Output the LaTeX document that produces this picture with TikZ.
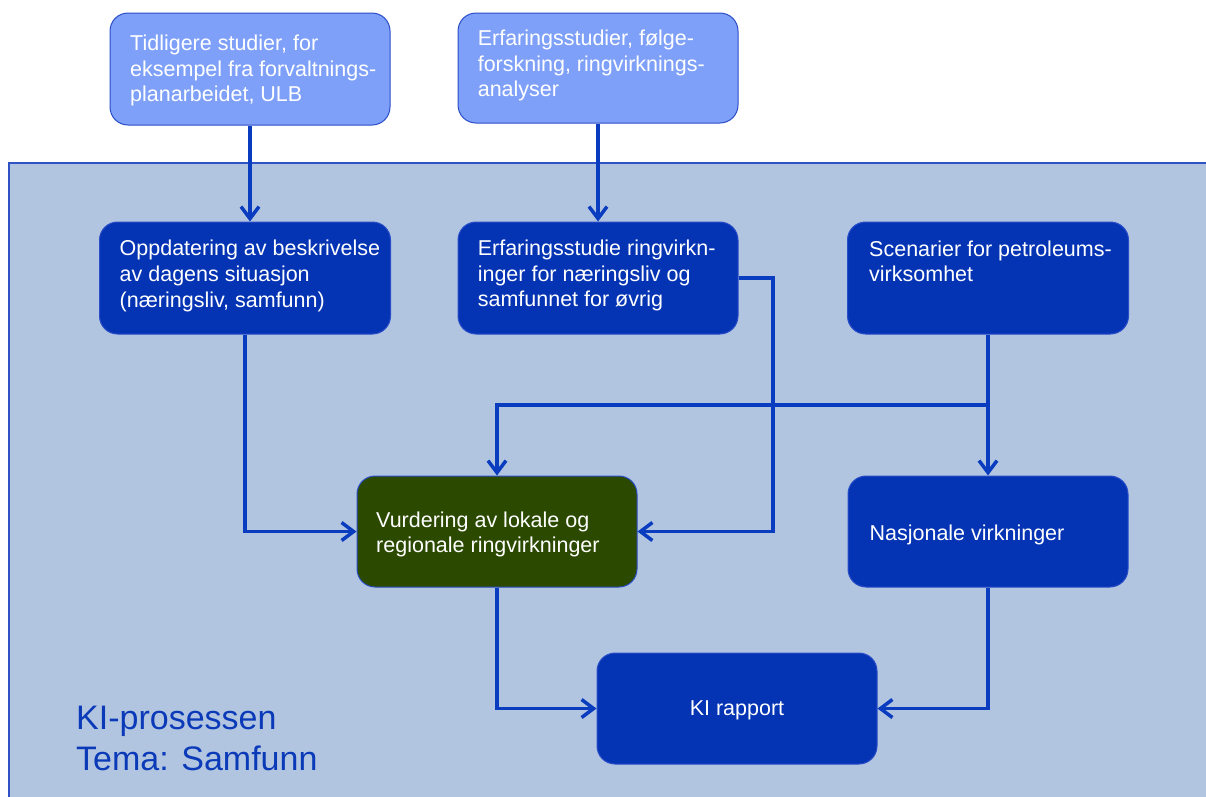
\documentclass[tikz,border=0pt]{standalone}
\usepackage{fontspec}
\setmainfont{Liberation Sans}
\usetikzlibrary{arrows.meta}
\definecolor{panelfill}{HTML}{B2C5E0}
\definecolor{panelborder}{HTML}{2F52C4}
\definecolor{lightfill}{HTML}{7EA0F8}
\definecolor{darkfill}{HTML}{0434B4}
\definecolor{greenfill}{HTML}{2B4A00}
\definecolor{boxborder}{HTML}{2A4DC8}
\definecolor{linecol}{HTML}{0A3CC0}
\definecolor{titlecol}{HTML}{0A3AB8}
\begin{document}
\begin{tikzpicture}[x=1pt,y=-1pt,
  box/.style={draw=boxborder, line width=1pt, rounded corners=18pt, inner sep=0pt},
  lightbox/.style={box, fill=lightfill},
  darkbox/.style={box, fill=darkfill},
  greenbox/.style={box, fill=greenfill},
  boxtext/.style={anchor=base west, align=left, text=white, inner sep=0pt, font=\fontsize{21.5}{25.7}\selectfont},
  conn/.style={draw=linecol, line width=3.5pt},
  arr/.style={conn, -{Straight Barb[length=12pt,width=18pt]}}]
\useasboundingbox (0,0) rectangle (1206,796);
% panel
\fill[panelfill] (9,163) rectangle (1215,805);
\draw[panelborder, line width=1.2pt] (9,805) -- (9,163) -- (1215,163);
% boxes
\node[lightbox, minimum width=280pt, minimum height=112pt] (A) at (250,69) {};
\node[lightbox, minimum width=280pt, minimum height=110pt] (B) at (598,68) {};
\node[darkbox, minimum width=291pt, minimum height=112pt] (C) at (245,278) {};
\node[darkbox, minimum width=280pt, minimum height=112pt] (D) at (598,278) {};
\node[darkbox, minimum width=281pt, minimum height=112pt] (E) at (988,278) {};
\node[greenbox, minimum width=280pt, minimum height=111pt] (F) at (497,531.5) {};
\node[darkbox, minimum width=280pt, minimum height=111pt] (G) at (988,531.5) {};
\node[darkbox, minimum width=280pt, minimum height=111pt, text depth=0pt, text=white, font=\fontsize{21.5}{25.7}\selectfont] (H) at (737,708.5) {KI rapport};
% connectors
\coordinate (dturn) at (773,278);
\coordinate (split) at (988,405);
\draw[arr] (A.south) -- (A.south |- C.north);
\draw[arr] (B.south) -- (D.north);
\draw[arr] (C.south) |- (F.west);
\draw[arr] (D.east) -- (dturn) |- (F.east);
\draw[arr] (E.south) -- (G.north);
\draw[arr] (split) -| (F.north);
\draw[arr] (F.south) |- (H.west);
\draw[arr] (G.south) |- (H.east);
% texts (anchored at the baseline of the last line)
\node[boxtext] (tA) at (130,101.7) {Tidligere studier, for\\eksempel fra forvaltnings-\\planarbeidet, ULB};
\node[boxtext] (tB) at (477.6,96.7) {Erfaringsstudier, følge-\\forskning, ringvirknings-\\analyser};
\node[boxtext] (tC) at (119.5,307) {Oppdatering av beskrivelse\\av dagens situasjon\\(næringsliv, samfunn)};
\node[boxtext] (tD) at (477.6,306.7) {Erfaringsstudie ringvirkn-\\inger for næringsliv og\\samfunnet for øvrig};
\node[boxtext] (tE) at (869,281.7) {Scenarier for petroleums-\\virksomhet};
\node[boxtext] (tF) at (376,552.7) {Vurdering av lokale og\\regionale ringvirkninger};
\node[boxtext] (tG) at (869.4,540) {Nasjonale virkninger};
\node[anchor=base west, align=left, text=titlecol, inner sep=0pt, font=\fontsize{34}{41}\selectfont] (title) at (76,770) {KI-prosessen\\Tema: Samfunn};
\end{tikzpicture}
\end{document}
